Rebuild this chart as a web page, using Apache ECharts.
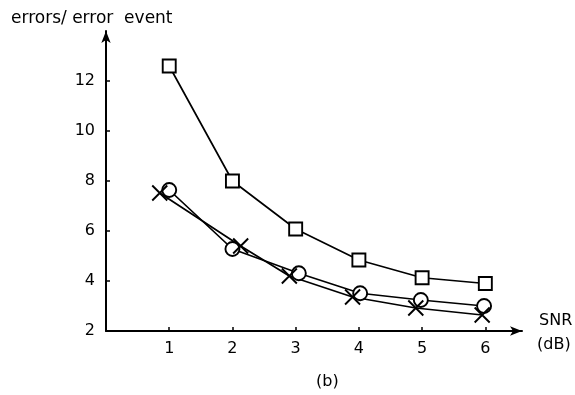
<!DOCTYPE html>
<html>
<head>
<meta charset="utf-8">
<script src="https://cdn.jsdelivr.net/npm/echarts@6/dist/echarts.min.js"></script>
<style>html,body{margin:0;padding:0;background:#fff}#c{width:575px;height:395px}</style>
</head>
<body>
<div id="c"></div>
<script>
// Data
var squareX = [1, 2, 3, 4, 5, 6];
var squareY = [12.6, 8.0, 6.08, 4.84, 4.13, 3.9];
var circleX = [1.0, 2.0, 3.05, 4.02, 4.98, 5.98];
var circleY = [7.64, 5.28, 4.31, 3.51, 3.24, 3.0];
var crossX = [0.85, 2.13, 2.9, 3.9, 4.9, 5.95];
var crossY = [7.52, 5.4, 4.2, 3.36, 2.92, 2.64];
var xTicks = [1, 2, 3, 4, 5, 6];
var yTicks = [2, 4, 6, 8, 10, 12];

function pairs(xs, ys) { return xs.map(function (x, i) { return [x, ys[i]]; }); }

var font = 'DejaVu Sans';
var chart = echarts.init(document.getElementById('c'));
chart.setOption({
  animation: false,
  backgroundColor: '#fff',
  grid: { left: 106, right: 53, top: 31, bottom: 64 },
  xAxis: {
    type: 'value', min: 0, max: 6.58,
    axisLine: { show: true, lineStyle: { color: '#000', width: 2 }, symbol: ['none', 'arrow'], symbolSize: [7, 12] },
    axisTick: { show: true, inside: true, length: 4, customValues: xTicks, lineStyle: { color: '#000', width: 1.5 } },
    axisLabel: { customValues: xTicks, color: '#000', fontFamily: font, fontSize: 16, margin: 10 },
    splitLine: { show: false }
  },
  yAxis: {
    type: 'value', min: 2, max: 14, interval: 2,
    axisLine: { show: true, lineStyle: { color: '#000', width: 2 }, symbol: ['none', 'arrow'], symbolSize: [7, 12] },
    axisTick: { show: true, inside: true, length: 4, customValues: yTicks.slice(1), lineStyle: { color: '#000', width: 1.5 } },
    axisLabel: { customValues: yTicks, color: '#000', fontFamily: font, fontSize: 16, margin: 11 },
    splitLine: { show: false }
  },
  graphic: [
    { type: 'text', left: 11, top: 10, style: { text: 'errors/ error  event', font: '17px "DejaVu Sans"', fill: '#000' } },
    { type: 'text', left: 539, top: 313, style: { text: 'SNR', font: '16px "DejaVu Sans"', fill: '#000' } },
    { type: 'text', left: 537, top: 337, style: { text: '(dB)', font: '16px "DejaVu Sans"', fill: '#000' } },
    { type: 'text', left: 316, top: 374, style: { text: '(b)', font: '16px "DejaVu Sans"', fill: '#000' } }
  ],
  series: [
    {
      type: 'line', data: pairs(squareX, squareY), symbol: 'rect', symbolSize: 13,
      lineStyle: { color: '#000', width: 1.7 },
      itemStyle: { color: '#fff', borderColor: '#000', borderWidth: 1.9 }
    },
    {
      type: 'line', data: pairs(circleX, circleY), symbol: 'circle', symbolSize: 14,
      lineStyle: { color: '#000', width: 1.7 },
      itemStyle: { color: '#fff', borderColor: '#000', borderWidth: 1.9 }
    },
    {
      type: 'line', data: pairs(crossX, crossY), symbol: 'path://M0,0L10,10M10,0L0,10', symbolSize: 15,
      lineStyle: { color: '#000', width: 1.7 },
      itemStyle: { color: 'none', borderColor: '#000', borderWidth: 1.9 }
    }
  ]
});
</script>
</body>
</html>
